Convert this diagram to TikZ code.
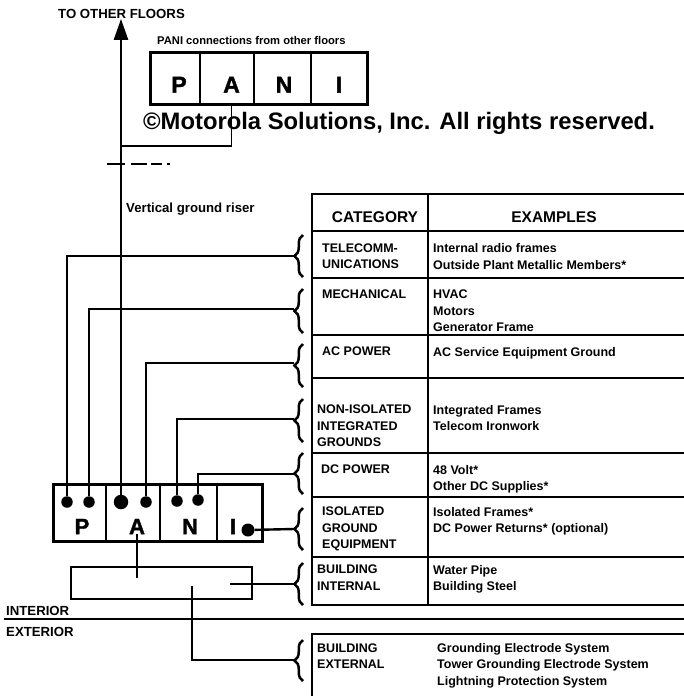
\documentclass[tikz,border=0pt]{standalone}
\usepackage{fontspec}
\setmainfont{Liberation Sans}
\newfontfamily\heavyfont{Liberation Sans}[FakeBold=1.6]
\usetikzlibrary{arrows.meta, positioning, calc, decorations.pathreplacing}

\begin{document}
\begin{tikzpicture}[x=1pt, y=-1pt,
  every node/.style={inner sep=0pt, font=\bfseries},
  wire/.style={line width=2.4pt},
  link/.style={line width=2pt},
  tabline/.style={line width=1.2pt},
  pbox/.style={draw, rectangle, line width=3pt},
  tap/.style={circle, fill, inner sep=0pt, minimum size=11.5pt},
  bigtap/.style={tap, minimum size=14.5pt},
  cbrace/.style={decorate, decoration={brace, amplitude=8.5pt}, line width=2.5pt},
  lbl/.style={font=\fontsize{13.2}{16}\selectfont\bfseries},
  cell/.style={anchor=north west, align=left, font=\fontsize{12.5}{16.4}\selectfont\bfseries},
  head/.style={font=\fontsize{15.5}{18}\selectfont\bfseries},
  letter/.style={font=\fontsize{22}{26}\selectfont\heavyfont\bfseries},
]
  \useasboundingbox (0,0) rectangle (684,696);

  % upper floor bar
  \node[lbl, anchor=west] (floors) at (58,14) {TO OTHER FLOORS};
  \node[anchor=base west, font=\fontsize{11.2}{13}\selectfont\bfseries] (fromfl) at (157,44.3) {PANI connections from other floors};
  \node[pbox, minimum width=217pt, minimum height=52pt] (top) at (258.5,78) {};
  \draw[tabline] (200,52) -- (200,104);
  \draw[tabline] (254,52) -- (254,104);
  \draw[tabline] (311,52) -- (311,104);
  \node[letter, font=\fontsize{23}{26}\selectfont\heavyfont\bfseries] (tP) at (179,84.7) {P};
  \node[letter, font=\fontsize{23}{26}\selectfont\heavyfont\bfseries] (tA) at (231.5,84.7) {A};
  \node[letter, font=\fontsize{23}{26}\selectfont\heavyfont\bfseries] (tN) at (284,84.7) {N};
  \node[letter, font=\fontsize{23}{26}\selectfont\heavyfont\bfseries] (tI) at (339,84.7) {I};
  \node[anchor=base west, font=\fontsize{23.8}{28}\selectfont\bfseries] (copy) at (143,129.3) {©Motorola Solutions, Inc. All rights reserved.};

  \coordinate (join) at (120,146);
  \draw[tabline] (tA |- top.south) |- (join);
  \draw[line width=2pt, dash pattern=on 18pt off 6pt on 16pt off 4pt on 11pt off 5pt on 3pt] (107,164) -- (171,164);
  \node[lbl, anchor=base west] (riser) at (126,212) {Vertical ground riser};

  % table
  \draw[tabline] (684,194) -| (312,605) -- (684,605);
  \draw[tabline] (428,194) -- (428,605);
  \foreach \yy in {231,278,335,378,453,497,557}
    \draw[tabline] (312,\yy) -- (684,\yy);
  \draw[tabline] (684,634) -- (312,634) -- (312,696);

  \node[head] (hcat) at (375,217) {CATEGORY};
  \node[head] (hex) at (554,217) {EXAMPLES};

  \node[cell] (c1) at (322,243.5) {TELECOMM-\\UNICATIONS};
  \node[cell] (e1) at (433,243.5) {Internal radio frames\\Outside Plant Metallic Members*};
  \node[cell] (c2) at (322,290) {MECHANICAL};
  \node[cell] (e2) at (433,290) {HVAC\\Motors\\Generator Frame};
  \node[cell] (c3) at (322,347) {AC POWER};
  \node[cell] (e3) at (433,347) {AC Service Equipment Ground};
  \node[cell] (c4) at (317,405) {NON-ISOLATED\\INTEGRATED\\GROUNDS};
  \node[cell] (e4) at (433,405) {Integrated Frames\\Telecom Ironwork};
  \node[cell] (c5) at (321,465) {DC POWER};
  \node[cell] (e5) at (433,465) {48 Volt*\\Other DC Supplies*};
  \node[cell] (c6) at (322,507) {ISOLATED\\GROUND\\EQUIPMENT};
  \node[cell] (e6) at (433,507) {Isolated Frames*\\DC Power Returns* (optional)};
  \node[cell] (c7) at (317,565) {BUILDING\\INTERNAL};
  \node[cell] (e7) at (433,565) {Water Pipe\\Building Steel};
  \node[cell] (c8) at (317,643.3) {BUILDING\\EXTERNAL};
  \node[cell] (e8) at (437,643.3) {Grounding Electrode System\\Tower Grounding Electrode System\\Lightning Protection System};

  % braces
  \draw[cbrace] (303,277) -- (303,235);
  \draw[cbrace] (303,333) -- (303,289);
  \draw[cbrace] (303,387) -- (303,344);
  \draw[cbrace] (303,442) -- (303,399);
  \draw[cbrace] (303,494) -- (303,453);
  \draw[cbrace] (303,550) -- (303,508);
  \draw[cbrace] (303,605) -- (303,563);
  \draw[cbrace] (303,681) -- (303,640);
  \coordinate (b1) at (294,256);
  \coordinate (b2) at (294,309);
  \coordinate (b3) at (294,363);
  \coordinate (b4) at (294,419);
  \coordinate (b5) at (294,474);
  \coordinate (b6) at (294,529);
  \coordinate (b7) at (294,584);
  \coordinate (b8) at (294,660);

  % floor bar
  \node[pbox, minimum width=209pt, minimum height=57pt] (bar) at (157.5,512.5) {};
  \draw[tabline] (106,484) -- (106,541);
  \draw[tabline] (160,484) -- (160,541);
  \draw[tabline] (217,484) -- (217,541);
  \node[letter] (bP) at (82,526.5) {P};
  \node[letter] (bA) at (137,526.5) {A};
  \node[letter] (bN) at (190,526.5) {N};
  \node[letter] (bI) at (233,526.5) {I};

  \node[tap] (d1) at (67,502) {};
  \node[tap] (d2) at (89,502) {};
  \node[bigtap] (dR) at (121,502) {};
  \node[tap] (d3) at (146,502) {};
  \node[tap] (d4) at (177,501) {};
  \node[tap] (d5) at (198,500) {};
  \node[tap, minimum size=13pt] (di) at (248,530) {};

  \draw[wire, -{Triangle[length=21pt, width=14pt]}] (dR) -- (dR |- floors.south);
  \draw[wire] (b1) -| (d1);
  \draw[wire] (b2) -| (d2);
  \draw[wire] (b3) -| (d3);
  \draw[wire] (b4) -| (d4);
  \draw[wire] (b5) -| (d5);
  \draw[wire] (b6) -- (di);

  % internal bus
  \node[draw, rectangle, line width=2.3pt, minimum width=181pt, minimum height=32pt] (bus) at (161.5,583) {};
  \coordinate (busA) at (137,578);
  \coordinate (busI) at (230,584);
  \coordinate (busE) at (192,586);
  \draw[link] (bA) -- (busA);
  \draw[link] (busI) -- (b7);
  \draw[wire] (busE) |- (b8);

  % interior / exterior
  \draw[wire] (4,619) -- (684,619);
  \node[lbl, anchor=west] (inner) at (6,611) {INTERIOR};
  \node[lbl, anchor=west] (outer) at (6,632) {EXTERIOR};
\end{tikzpicture}
\end{document}
